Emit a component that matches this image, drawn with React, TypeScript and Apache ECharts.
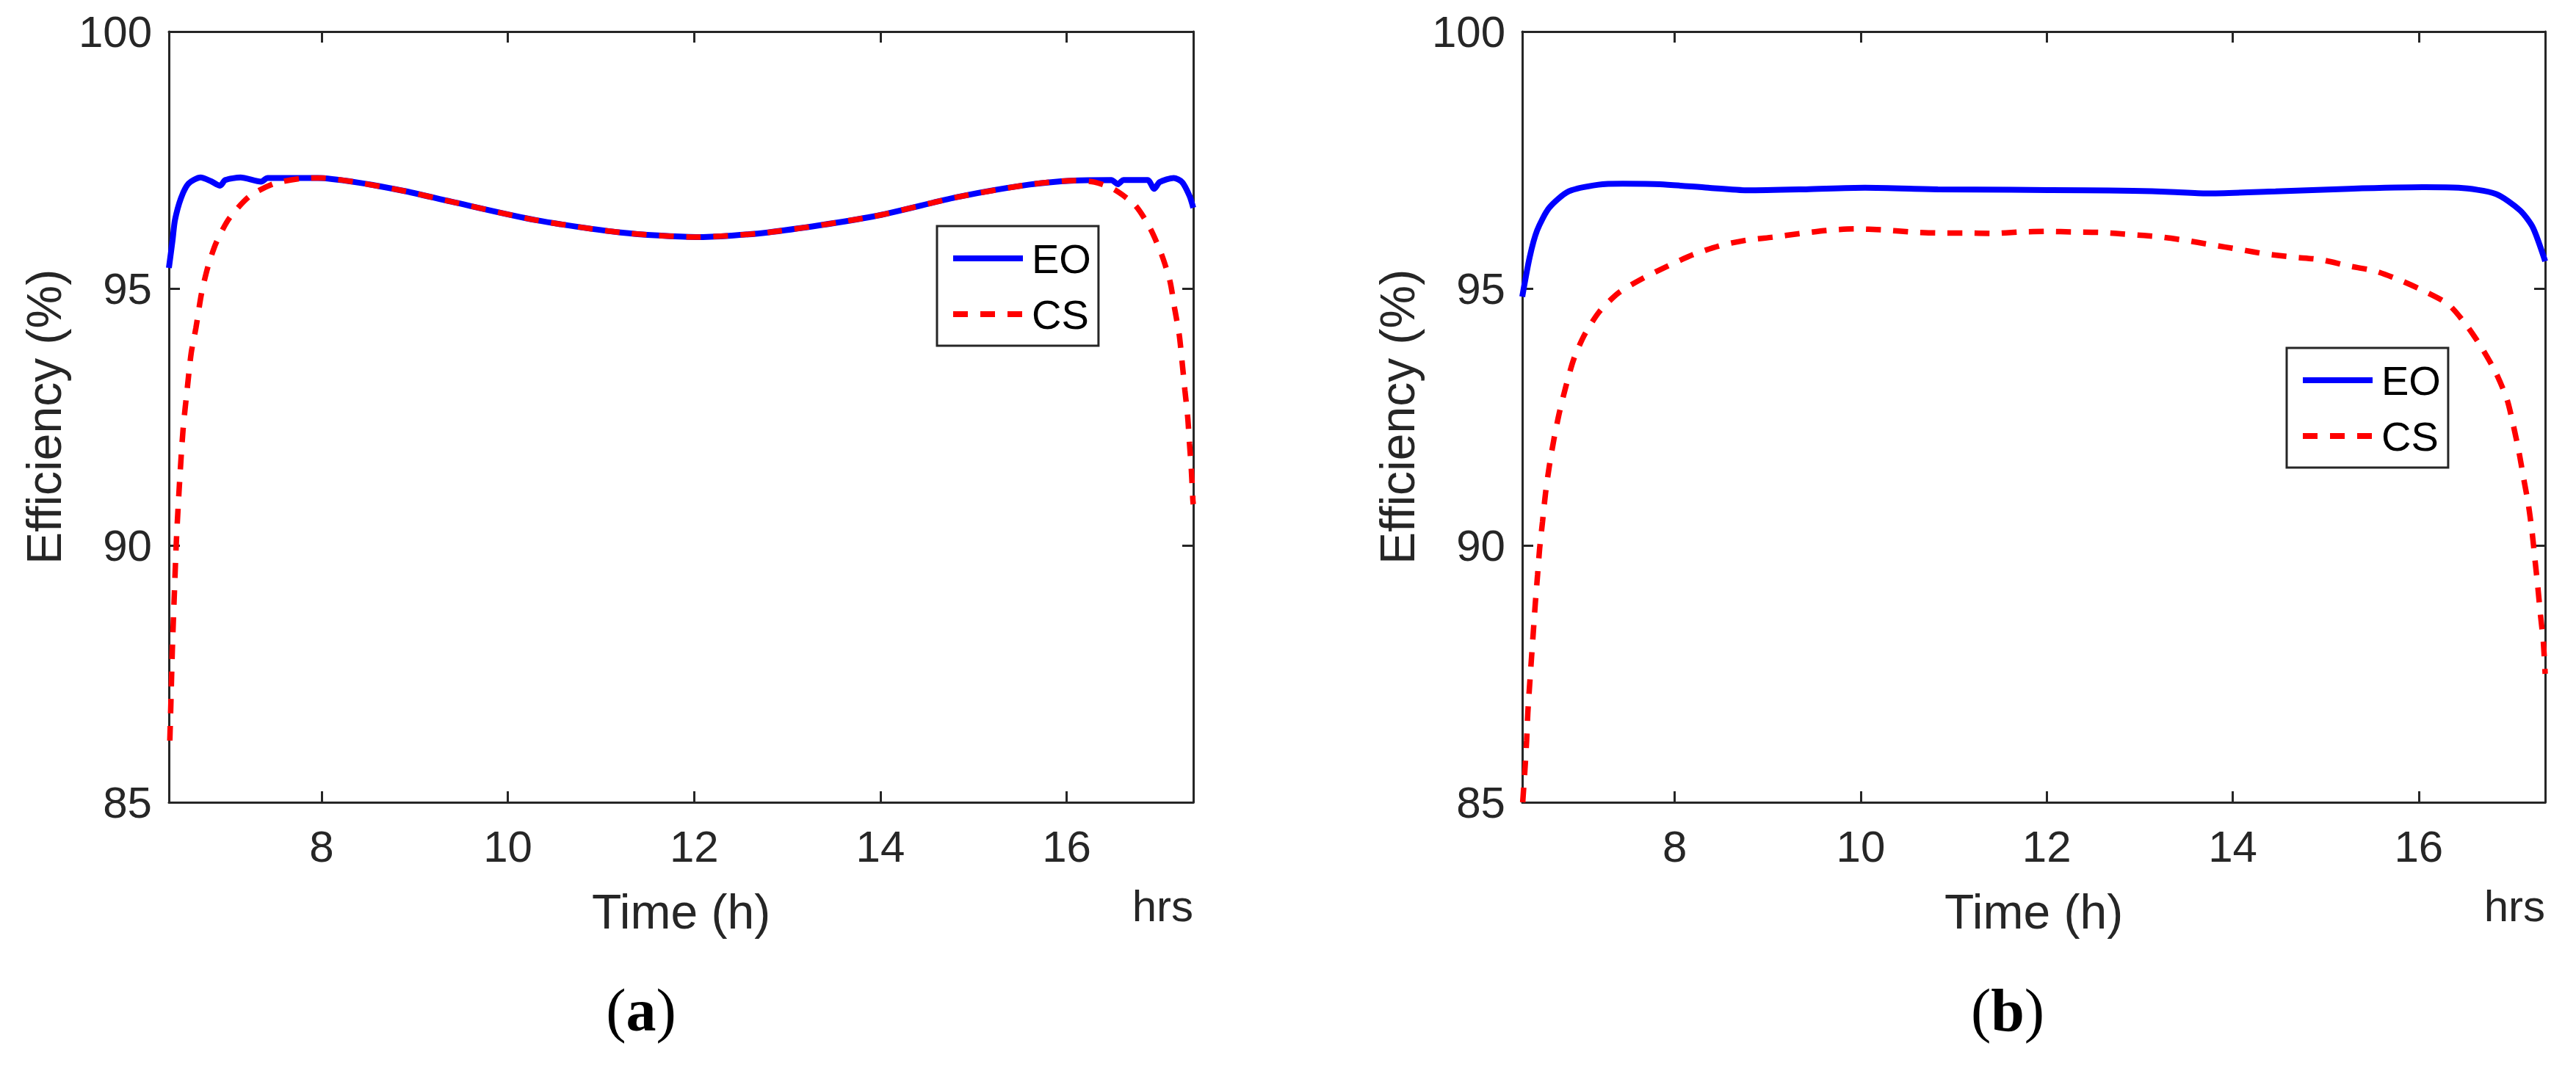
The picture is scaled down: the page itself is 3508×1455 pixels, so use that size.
import React, { useEffect, useRef } from "react";
import * as echarts from "echarts";

// ---------- data ----------
const X_MIN = 6.36;
const X_MAX = 17.36;
const xTickValues = [8, 10, 12, 14, 16];
const Y_MIN = 85;
const Y_MAX = 100;
const Y_STEP = 5;

// (a) EO
const timeA_EO = [6.36, 6.4, 6.425, 6.49, 6.57, 6.7, 6.81, 6.91, 6.965, 7.13, 7.35, 7.42, 7.72, 7.96, 8.36, 8.88, 9.39, 10.3, 11.21, 12.02, 12.79, 13.92, 14.83, 15.59, 16.08, 16.48, 16.55, 16.61, 16.87, 16.94, 17.0, 17.15, 17.24, 17.32, 17.36];
const effA_EO = [95.4, 95.95, 96.33, 96.76, 97.04, 97.16, 97.09, 97.0, 97.11, 97.16, 97.08, 97.15, 97.15, 97.15, 97.07, 96.9, 96.69, 96.33, 96.09, 96.0, 96.09, 96.4, 96.78, 97.02, 97.1, 97.11, 97.03, 97.11, 97.11, 96.94, 97.07, 97.15, 97.07, 96.8, 96.57];

// (a) CS
const timeA_CS = [6.37, 6.381, 6.397, 6.418, 6.441, 6.473, 6.512, 6.56, 6.6, 6.65, 6.71, 6.78, 6.87, 7.01, 7.23, 7.49, 7.78, 8.0, 8.36, 8.88, 9.39, 10.3, 11.21, 12.02, 12.79, 13.92, 14.83, 15.59, 16.08, 16.3, 16.51, 16.74, 16.9, 17.02, 17.11, 17.16, 17.21, 17.24, 17.27, 17.3, 17.32, 17.34, 17.355, 17.36];
const effA_CS = [86.2, 86.9, 87.97, 89.03, 90.11, 91.18, 92.25, 93.1, 93.75, 94.23, 94.9, 95.43, 95.9, 96.37, 96.8, 97.04, 97.14, 97.15, 97.07, 96.9, 96.69, 96.33, 96.09, 96.0, 96.09, 96.4, 96.78, 97.02, 97.1, 97.07, 96.93, 96.61, 96.16, 95.66, 95.14, 94.61, 94.09, 93.57, 93.02, 92.5, 91.97, 91.45, 90.9, 90.8];

// (b) EO
const timeB_EO = [6.36, 6.44, 6.52, 6.65, 6.86, 7.18, 7.44, 7.84, 8.36, 8.78, 9.41, 10.04, 10.83, 11.62, 12.41, 12.93, 13.33, 13.72, 14.46, 15.25, 16.04, 16.43, 16.83, 17.09, 17.23, 17.36];
const effB_EO = [94.84, 95.61, 96.13, 96.57, 96.89, 97.02, 97.04, 97.03, 96.96, 96.91, 96.93, 96.96, 96.93, 96.92, 96.91, 96.9, 96.88, 96.85, 96.89, 96.94, 96.97, 96.96, 96.84, 96.52, 96.18, 95.53];

// (b) CS
const timeB_CS = [6.365, 6.39, 6.407, 6.42, 6.44, 6.46, 6.48, 6.5, 6.525, 6.547, 6.578, 6.61, 6.65, 6.7, 6.76, 6.83, 6.915, 7.03, 7.19, 7.4, 7.66, 7.93, 8.2, 8.48, 8.77, 9.06, 9.35, 9.64, 9.94, 10.23, 10.53, 10.83, 11.12, 11.41, 11.71, 12.0, 12.3, 12.59, 12.9, 13.19, 13.48, 13.77, 14.07, 14.36, 14.65, 14.95, 15.24, 15.53, 15.8, 16.07, 16.32, 16.52, 16.68, 16.83, 16.95, 17.02, 17.08, 17.13, 17.18, 17.22, 17.25, 17.28, 17.31, 17.34, 17.36];
const effB_CS = [85.0, 85.67, 86.2, 86.74, 87.3, 87.82, 88.34, 88.86, 89.43, 89.94, 90.46, 91.01, 91.53, 92.06, 92.59, 93.1, 93.63, 94.1, 94.55, 94.92, 95.2, 95.44, 95.66, 95.83, 95.94, 96.0, 96.07, 96.13, 96.16, 96.14, 96.1, 96.08, 96.08, 96.07, 96.1, 96.11, 96.1, 96.09, 96.05, 96.01, 95.94, 95.85, 95.76, 95.67, 95.61, 95.56, 95.44, 95.34, 95.16, 94.94, 94.69, 94.27, 93.84, 93.36, 92.84, 92.32, 91.8, 91.29, 90.79, 90.25, 89.73, 89.21, 88.64, 88.13, 87.5];

const seriesNames = ["EO", "CS"];
const panelLabels = ["a", "b"];
const xAxisTitle = "Time (h)";
const yAxisTitle = "Efficiency (%)";
const unitText = "hrs";

// ---------- styles ----------
const AX = "#262626";
const FONT = "'Liberation Sans', Arial, sans-serif";
const SERIF = "'Liberation Serif', 'Times New Roman', serif";

const grids = [
  { left: 230, top: 43, width: 1395, height: 1050 },
  { left: 2073, top: 43, width: 1393, height: 1050 },
];

const zip = (t: number[], v: number[]) => t.map((x, i) => [x, v[i]]);

function buildOption() {
  const xAxis: any[] = [];
  const yAxis: any[] = [];
  grids.forEach((_, gi) => {
    const axisLine = { show: true, onZero: false, lineStyle: { color: AX, width: 3 } };
    xAxis.push({
      type: "value",
      gridIndex: gi,
      position: "bottom",
      min: X_MIN,
      max: X_MAX,
      axisLine,
      axisTick: { show: true, inside: true, length: 15, lineStyle: { color: AX, width: 3 }, customValues: xTickValues },
      axisLabel: { show: true, customValues: xTickValues, fontSize: 60, fontFamily: FONT, color: AX, margin: 30 },
      splitLine: { show: false },
      name: xAxisTitle,
      nameLocation: "middle",
      nameGap: 116,
      nameTextStyle: { fontSize: 66, fontFamily: FONT, color: AX },
    });
    xAxis.push({
      type: "value",
      gridIndex: gi,
      position: "top",
      min: X_MIN,
      max: X_MAX,
      axisLine,
      axisTick: { show: true, inside: true, length: 15, lineStyle: { color: AX, width: 3 }, customValues: xTickValues },
      axisLabel: { show: false },
      splitLine: { show: false },
    });
    yAxis.push({
      type: "value",
      gridIndex: gi,
      position: "left",
      min: Y_MIN,
      max: Y_MAX,
      interval: Y_STEP,
      axisLine,
      axisTick: { show: true, inside: true, length: 15, lineStyle: { color: AX, width: 3 } },
      axisLabel: { show: true, fontSize: 60, fontFamily: FONT, color: AX, margin: 23 },
      splitLine: { show: false },
      name: yAxisTitle,
      nameLocation: "middle",
      nameGap: 137,
      nameTextStyle: { fontSize: 66, fontFamily: FONT, color: AX },
    });
    yAxis.push({
      type: "value",
      gridIndex: gi,
      position: "right",
      min: Y_MIN,
      max: Y_MAX,
      interval: Y_STEP,
      axisLine,
      axisTick: { show: true, inside: true, length: 15, lineStyle: { color: AX, width: 3 } },
      axisLabel: { show: false },
      splitLine: { show: false },
    });
  });

  const blue = { color: "#0000FF", width: 8 };
  const red = { color: "#FF0000", width: 7.5, type: [20, 17], cap: "butt" };
  const mk = (name: string, data: number[][], gi: number, ls: any) => ({
    type: "line",
    name,
    data,
    xAxisIndex: gi * 2,
    yAxisIndex: gi * 2,
    symbol: "none",
    showSymbol: false,
    smooth: 0.25,
    clip: true,
    lineStyle: ls,
    itemStyle: { color: ls.color },
  });

  const series = [
    mk(seriesNames[0], zip(timeA_EO, effA_EO), 0, blue),
    mk(seriesNames[1], zip(timeA_CS, effA_CS), 0, red),
    mk(seriesNames[0], zip(timeB_EO, effB_EO), 1, blue),
    mk(seriesNames[1], zip(timeB_CS, effB_CS), 1, red),
  ];

  const legendBase = {
    orient: "vertical",
    data: seriesNames,
    padding: [16, 10, 15, 18],
    itemWidth: 95,
    itemHeight: 20,
    itemGap: 20,
    borderColor: AX,
    borderWidth: 3,
    backgroundColor: "#ffffff",
    selectedMode: false,
    itemStyle: { opacity: 0, borderWidth: 0 },
    lineStyle: { width: 8, opacity: 1 },
    textStyle: { fontSize: 56, lineHeight: 54, fontFamily: FONT, color: "#000", padding: [0, 0, 0, 7] },
  };
  const legend = [
    { ...legendBase, left: 1276, top: 308 },
    { ...legendBase, left: 3114, top: 474 },
  ];

  const panelText = (label: string, x: number) => ({
    type: "text",
    x,
    y: 1376,
    style: {
      text: `{n|(}{b|${label}}{n|)}`,
      align: "center",
      verticalAlign: "middle",
      rich: {
        n: { fontFamily: SERIF, fontSize: 82, fill: "#000" },
        b: { fontFamily: SERIF, fontSize: 82, fontWeight: "bold", fill: "#000" },
      },
    },
  });
  const hrsText = (x: number) => ({
    type: "text",
    x,
    y: 1234,
    style: { text: unitText, fontFamily: FONT, fontSize: 60, fill: AX, align: "right", verticalAlign: "middle" },
  });

  return {
    animation: false,
    backgroundColor: "#ffffff",
    grid: grids,
    xAxis,
    yAxis,
    legend,
    series,
    graphic: [hrsText(1625), hrsText(3466), panelText(panelLabels[0], 873), panelText(panelLabels[1], 2734)],
  };
}

export default function App() {
  const ref = useRef<HTMLDivElement>(null);
  useEffect(() => {
    if (!ref.current) return;
    const chart = echarts.init(ref.current, null, { renderer: "svg" });
    chart.setOption(buildOption() as any);
    return () => chart.dispose();
  }, []);
  return (
    <div
      ref={ref}
      style={{ position: "fixed", left: 0, top: 0, width: 3508, height: 1455, background: "#fff" }}
    />
  );
}
